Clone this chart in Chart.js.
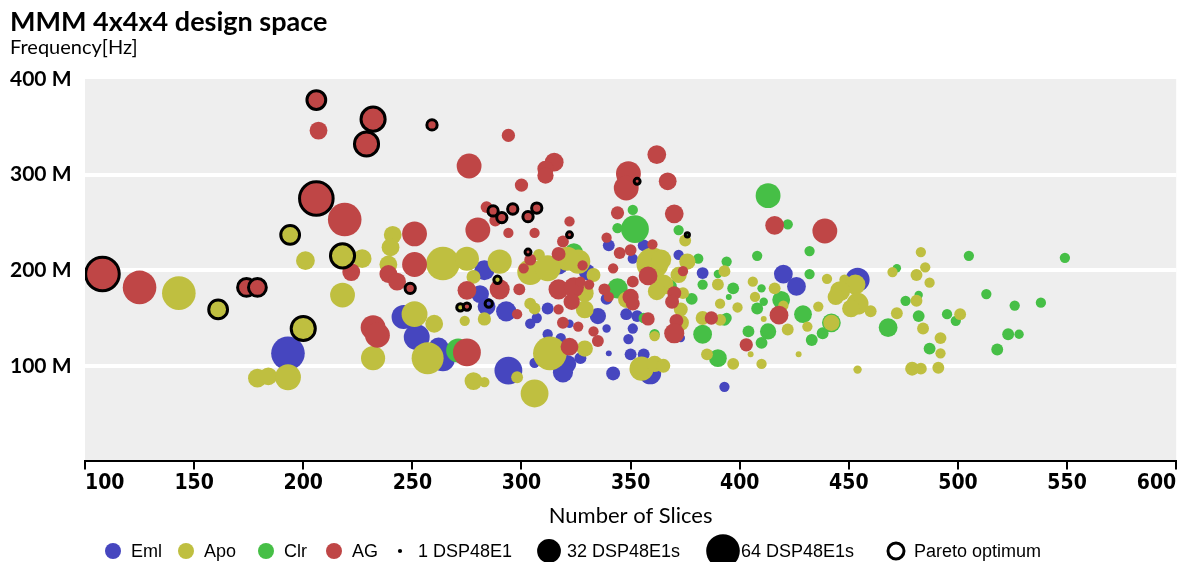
<!DOCTYPE html>
<html>
<head>
<meta charset="utf-8">
<script src="https://cdn.jsdelivr.net/npm/chart.js@4/dist/chart.umd.min.js"></script>
<style>
  body { margin: 0; background: #fff; }
  #wrap { width: 1183px; height: 562px; overflow: hidden; }
</style>
</head>
<body>
<div id="wrap"><canvas id="designChart" width="1196" height="562"></canvas></div>
<script>
// [slices, frequency in MHz, DSP48E1 count]
const emlPoints = [
  [193, 113, 64], [246, 151, 33], [252, 130, 38], [264, 107, 33], [262, 119, 23],
  [283, 200, 23], [281, 175, 18], [284, 162, 18], [293, 157, 23], [294, 95, 44],
  [317, 206, 23], [330, 198, 15], [307, 150, 6], [304, 144, 6], [312, 160, 8],
  [322, 144, 4], [312, 133, 6], [318, 129, 6], [306, 103, 6], [321, 102, 18],
  [319, 93, 23], [327, 108, 8], [339, 139, 4], [340, 113, 2], [342, 92, 11],
  [340, 226, 8], [351, 212, 6], [356, 226, 8], [372, 216, 6], [383, 197, 8],
  [335, 152, 15], [339, 170, 8], [348, 154, 8], [353, 152, 8], [351, 139, 6],
  [349, 128, 6], [350, 112, 8], [356, 112, 8], [359, 92, 27], [373, 129, 4],
  [393, 78, 6], [420, 196, 20], [426, 183, 20], [454, 190, 33]
];
const apoPoints = [
  [201, 210, 20], [227, 212, 20], [143, 176, 64], [179, 87, 20], [184, 89, 18],
  [193, 88, 38], [218, 174, 35], [232, 108, 33], [241, 237, 18], [240, 224, 18],
  [239, 206, 18], [251, 154, 38], [257, 108, 58], [260, 144, 18], [264, 207, 64],
  [275, 212, 33], [290, 209, 33], [308, 216, 8], [326, 209, 33], [321, 212, 33],
  [304, 198, 38], [312, 202, 38], [278, 193, 11], [274, 147, 6], [283, 149, 10],
  [304, 165, 8], [306, 160, 8], [329, 159, 18], [278, 84, 18], [283, 83, 6],
  [298, 88, 8], [306, 71, 44], [313, 113, 64], [329, 118, 15], [355, 97, 33],
  [361, 102, 15], [365, 100, 11], [361, 131, 6], [360, 207, 58], [364, 211, 23],
  [376, 209, 15], [372, 195, 15], [365, 185, 23], [362, 178, 18], [374, 176, 8],
  [373, 159, 11], [373, 145, 15], [348, 169, 15], [333, 195, 11], [329, 176, 18],
  [375, 231, 8], [383, 150, 11], [391, 148, 8], [391, 165, 6], [399, 161, 6],
  [390, 185, 8], [393, 199, 8], [385, 112, 8], [397, 102, 8], [410, 102, 6],
  [406, 188, 6], [416, 181, 8], [407, 172, 6], [405, 112, 2], [411, 149, 2],
  [420, 163, 6], [422, 138, 8], [440, 191, 6], [448, 190, 6], [453, 185, 23],
  [446, 178, 23], [444, 172, 15], [454, 165, 27], [451, 160, 18], [460, 157, 8],
  [436, 162, 6], [442, 145, 15], [431, 141, 6], [427, 112, 2], [454, 96, 4],
  [472, 155, 8], [481, 168, 8], [481, 195, 8], [485, 203, 6], [487, 187, 6],
  [483, 219, 6], [470, 198, 6], [484, 139, 8], [492, 129, 8], [492, 113, 6],
  [479, 97, 11], [483, 97, 8], [491, 98, 8], [501, 154, 8]
];
const clrPoints = [
  [271, 116, 33], [324, 219, 18], [351, 263, 6], [352, 243, 44], [344, 244, 6],
  [372, 242, 6], [344, 181, 23], [381, 212, 6], [368, 183, 11], [378, 170, 8],
  [383, 133, 20], [356, 150, 6], [361, 133, 6], [390, 108, 18], [394, 150, 6],
  [393, 148, 8], [397, 181, 8], [395, 172, 2], [394, 209, 6], [390, 196, 4],
  [408, 215, 6], [383, 185, 6], [410, 181, 4], [411, 167, 4], [408, 160, 8],
  [413, 136, 15], [404, 136, 8], [410, 124, 8], [413, 278, 35], [422, 248, 6],
  [432, 220, 6], [432, 196, 6], [419, 169, 18], [429, 154, 18], [442, 145, 20],
  [438, 134, 8], [433, 127, 8], [468, 140, 20], [476, 168, 6], [482, 174, 4],
  [472, 202, 4], [482, 152, 8], [487, 118, 8], [495, 154, 6], [499, 147, 6],
  [505, 215, 6], [513, 175, 6], [526, 163, 6], [538, 166, 6], [523, 133, 8],
  [528, 133, 5], [518, 117, 8], [549, 213, 6]
];
const agPoints = [
  [207, 346, 18], [219, 253, 64], [222, 198, 18], [125, 182, 64], [232, 140, 35],
  [234, 132, 35], [251, 238, 35], [251, 206, 35], [239, 196, 18], [243, 188, 18],
  [294, 341, 10], [276, 309, 35], [315, 313, 20], [311, 306, 15], [311, 299, 15],
  [300, 289, 10], [284, 266, 8], [288, 252, 8], [322, 251, 6], [294, 239, 6],
  [306, 239, 6], [280, 242, 35], [304, 211, 8], [317, 217, 11], [319, 230, 8],
  [344, 260, 10], [349, 301, 35], [348, 286, 35], [362, 321, 20], [367, 293, 18],
  [370, 259, 20], [339, 234, 6], [345, 218, 8], [350, 221, 8], [360, 227, 6],
  [358, 194, 20], [275, 179, 20], [290, 180, 23], [299, 180, 8], [301, 202, 6],
  [328, 205, 6], [317, 180, 23], [324, 182, 23], [331, 185, 6], [338, 180, 8],
  [340, 172, 6], [323, 167, 15], [298, 154, 6], [317, 159, 6], [319, 145, 8],
  [326, 141, 6], [333, 136, 6], [335, 126, 8], [275, 114, 44], [322, 120, 18],
  [342, 202, 6], [374, 199, 6], [370, 176, 11], [369, 167, 11], [371, 147, 11],
  [370, 134, 23], [358, 149, 10], [350, 172, 15], [351, 165, 11], [351, 188, 8],
  [327, 188, 6], [387, 150, 10], [403, 122, 10], [416, 247, 20], [439, 241, 35],
  [418, 153, 20]
];

// Pareto optimal designs
const emlPareto = [[285, 165, 3]];
const apoPareto = [[194, 237, 20], [218, 215, 33], [161, 159, 20], [200, 139, 33], [289, 190, 3], [272, 161, 3]];
const clrPareto = [[376, 237, 1]];
const agPareto = [
  [108, 196, 64], [206, 378, 20], [232, 358, 33], [229, 332, 33], [206, 275, 64],
  [174, 182, 18], [179, 182, 18], [249, 181, 6], [259, 352, 6], [287, 262, 6],
  [291, 255, 6], [296, 264, 6], [303, 256, 6], [307, 265, 6], [322, 237, 2],
  [303, 219, 2], [353, 293, 2], [275, 162, 3]
];

const seriesNames = ['Eml', 'Apo', 'Clr', 'AG'];
const seriesColors = ['#4646bf', '#bfbf40', '#46bf46', '#bf4646'];
const xTicks = [100, 150, 200, 250, 300, 350, 400, 450, 500, 550, 600];
const yTicks = [0, 100, 200, 300, 400];
const dspLegend = [1, 32, 64];

function bubbleRadius(dsp) {
  return 2.1 * Math.sqrt(dsp);
}

function toBubbles(points) {
  return points.map(p => ({ x: p[0], y: p[1], r: bubbleRadius(p[2]) }));
}

const allPoints = [emlPoints, apoPoints, clrPoints, agPoints];
const allPareto = [emlPareto, apoPareto, clrPareto, agPareto];

// dataset 0 is drawn on top: pareto first, then AG, Apo, Clr, Eml
const datasets = [];
[3, 1, 2, 0].forEach(i => {
  datasets.push({
    label: seriesNames[i] + ' pareto',
    data: toBubbles(allPareto[i]),
    backgroundColor: seriesColors[i],
    borderColor: '#000',
    borderWidth: 3
  });
});
[3, 1, 2, 0].forEach(i => {
  datasets.push({
    label: seriesNames[i],
    data: toBubbles(allPoints[i]),
    backgroundColor: seriesColors[i],
    borderWidth: 0
  });
});

// grey plot background
const plotBackground = {
  id: 'plotBackground',
  beforeDraw(chart) {
    const { ctx, chartArea: a } = chart;
    ctx.save();
    ctx.fillStyle = '#eeeeee';
    ctx.fillRect(a.left, a.top, a.right - a.left, a.bottom - a.top);
    ctx.restore();
  }
};

// legend row under the axis title
const legendRow = {
  id: 'legendRow',
  afterDraw(chart) {
    const ctx = chart.ctx;
    const y = 551;
    const items = [
      { x: 113, r: 8, fill: seriesColors[0], text: seriesNames[0] },
      { x: 186, r: 8, fill: seriesColors[1], text: seriesNames[1] },
      { x: 266, r: 8, fill: seriesColors[2], text: seriesNames[2] },
      { x: 334, r: 8, fill: seriesColors[3], text: seriesNames[3] },
      { x: 400, r: bubbleRadius(dspLegend[0]), fill: '#000', text: '1 DSP48E1' },
      { x: 549, r: bubbleRadius(dspLegend[1]), fill: '#000', text: '32 DSP48E1s' },
      { x: 723, r: bubbleRadius(dspLegend[2]), fill: '#000', text: '64 DSP48E1s' },
      { x: 896, r: 8, fill: '#fff', stroke: true, text: 'Pareto optimum' }
    ];
    ctx.save();
    ctx.font = '18px "Liberation Sans", Arial, sans-serif';
    ctx.textBaseline = 'middle';
    ctx.textAlign = 'left';
    items.forEach(it => {
      ctx.beginPath();
      ctx.arc(it.x, y, it.r, 0, Math.PI * 2);
      ctx.fillStyle = it.fill;
      ctx.fill();
      if (it.stroke) {
        ctx.lineWidth = 3;
        ctx.strokeStyle = '#000';
        ctx.stroke();
      }
      ctx.fillStyle = '#000';
      ctx.fillText(it.text, it.x + 18, y + 1);
    });
    ctx.restore();
  }
};

const ctx = document.getElementById('designChart').getContext('2d');
const designChart = new Chart(ctx, {
  type: 'bubble',
  data: { datasets: datasets },
  options: {
    responsive: false,
    animation: false,
    layout: { padding: { left: 10, right: 7, top: 0, bottom: 29 } },
    scales: {
      x: {
        type: 'linear',
        min: xTicks[0],
        max: xTicks[xTicks.length - 1],
        afterBuildTicks(scale) { scale.ticks = xTicks.map(v => ({ value: v })); },
        border: { display: true, color: '#000', width: 2 },
        grid: { drawOnChartArea: false, drawTicks: true, tickLength: 8, color: '#000', lineWidth: 2 },
        ticks: {
          align: 'inner',
          padding: 2,
          color: '#000',
          font: { family: '"Liberation Sans Narrow", "DejaVu Sans Condensed", sans-serif', size: 21, weight: 'bold' }
        },
        title: {
          display: true,
          text: 'Number of Slices',
          color: '#000',
          padding: { top: 4, bottom: 4 },
          font: { family: 'Lato, sans-serif', size: 22 }
        }
      },
      y: {
        type: 'linear',
        min: yTicks[0],
        max: yTicks[yTicks.length - 1],
        afterBuildTicks(scale) { scale.ticks = yTicks.map(v => ({ value: v })); },
        afterFit(scale) { scale.width = 75; },
        border: { display: false },
        grid: {
          drawTicks: false,
          lineWidth: 4,
          color: c => (c.tick && (c.tick.value === 0 || c.tick.value === 400)) ? 'rgba(0,0,0,0)' : '#ffffff'
        },
        ticks: {
          crossAlign: 'far',
          padding: 0,
          color: '#000',
          font: { family: 'Lato, sans-serif', size: 21, weight: 'bold' },
          callback: v => v === 0 ? '' : v + ' M'
        }
      }
    },
    plugins: {
      legend: { display: false },
      tooltip: { enabled: false },
      title: {
        display: true,
        text: 'MMM 4x4x4 design space',
        align: 'start',
        color: '#000',
        padding: { top: 9, bottom: 0 },
        font: { family: 'Lato, sans-serif', size: 27, weight: 'bold', lineHeight: 1 }
      },
      subtitle: {
        display: true,
        text: 'Frequency[Hz]',
        align: 'start',
        color: '#000',
        padding: { top: 0, bottom: 19 },
        font: { family: 'Lato, sans-serif', size: 20, lineHeight: 1.2 }
      }
    }
  },
  plugins: [plotBackground, legendRow]
});
</script>
</body>
</html>
